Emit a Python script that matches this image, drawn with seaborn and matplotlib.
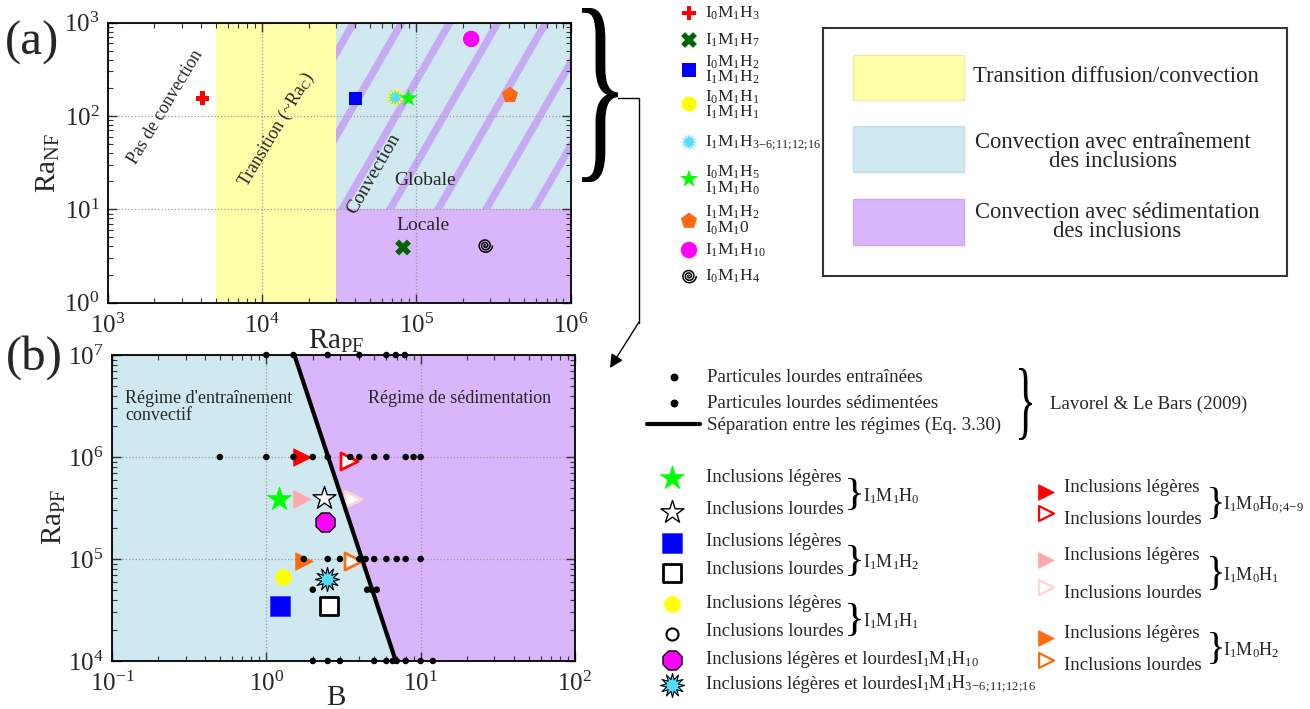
import numpy as np
import matplotlib
matplotlib.use('Agg')
import matplotlib.pyplot as plt
import seaborn as sns
from matplotlib.path import Path
from matplotlib.patches import Rectangle, PathPatch
from matplotlib.textpath import TextPath
from matplotlib.font_manager import FontProperties
from matplotlib.transforms import Affine2D

# ---------------- Données panneau (a) ----------------
cas_a = ['I0M1H3', 'I1M1H7', 'I0M1H2', 'I0M1H1', 'I1M1H3-16',
         'I0M1H5', 'I1M1H2', 'I1M1H10', 'I0M1H4']
ra_pf_a = [4.1e3, 8.2e4, 4.05e4, 7.3e4, 7.3e4, 8.9e4, 4.05e5, 2.27e5, 2.8e5]
ra_nf_a = [155, 3.9, 155, 158, 158, 155, 167, 670, 4.1]

ra_transition = [5e3, 3e4]      # bande jaune (~Ra_c)
ra_nf_limite = 10               # globale / locale
lim_pf_a = [1e3, 1e6]
lim_nf_a = [1, 1e3]

# ---------------- Données panneau (b) ----------------
# Lavorel & Le Bars (2009)
B_entraine = [1.0, 1.5, 0.5, 1.0, 1.5, 2.0, 2.5, 1.75, 2.5, 3.0, 4.0,
              2.0, 4.5, 4.8, 2.0, 2.5, 3.0, 5.0, 6.0, 6.6]
Ra_entraine = [1e7, 1e7, 1e6, 1e6, 1e6, 1e6, 1e6, 1e5, 1e5, 1e5, 1e5,
               5e4, 5e4, 5e4, 1e4, 1e4, 1e4, 1e4, 1e4, 1e4]
B_sedimente = [2.5, 4.0, 6.0, 6.9, 7.9, 3.5, 4.0, 5.0, 6.0, 8.0, 9.0, 10.0,
               4.4, 5.0, 6.0, 7.0, 8.0, 10.0, 5.2, 7.0, 8.0, 10.0, 12.0]
Ra_sedimente = [1e7, 1e7, 1e7, 1e7, 1e7, 1e6, 1e6, 1e6, 1e6, 1e6, 1e6, 1e6,
                1e5, 1e5, 1e5, 1e5, 1e5, 1e5, 5e4, 1e4, 1e4, 1e4, 1e4]

# séparation entre les régimes (Eq. 3.30)
B_separation = [1.52, 6.9]
Ra_separation = [1e7, 1e4]
lim_B = [0.1, 100]
lim_Ra = [1e4, 1e7]

cas_b = ['I1M0H0 leg', 'I1M0H0 lou', 'I1M1H0 leg', 'I1M0H1 leg', 'I1M1H0 lou',
         'I1M0H1 lou', 'I1M1H10', 'I1M0H2 leg', 'I1M0H2 lou', 'I1M1H1 leg',
         'I1M1H3-16', 'I1M1H2 leg', 'I1M1H2 lou']
B_b = [1.70, 3.41, 1.20, 1.70, 2.35, 3.64, 2.39, 1.76, 3.64, 1.28, 2.47, 1.23, 2.53]
Ra_b = [1e6, 9.2e5, 3.85e5, 3.85e5, 4.0e5, 3.85e5, 2.3e5, 9.6e4, 9.6e4,
        6.7e4, 6.3e4, 3.5e4, 3.5e4]

# ---------------- Styles ----------------
JAUNE = '#FFFFAA'
BLEU = '#D0E8EF'
VIOLET = '#D9B5FB'
VIOLET_RAYE = '#C6AAF3'
ORANGE = '#FF6A10'

# marqueurs spéciaux (formes)
t = np.linspace(0, 6 * np.pi, 300)
SPIRALE = Path(np.column_stack([t * np.cos(t), t * np.sin(t)]) / (6 * np.pi))
ETOILE12 = (12, 1, 0)

style_a = {
    'I0M1H3': dict(marker='P', s=95, fc='#FF0000', ec='none', lw=0),
    'I1M1H7': dict(marker='X', s=130, fc='#006400', ec='none', lw=0),
    'I0M1H2': dict(marker='s', s=90, fc='#0000FF', ec='none', lw=0),
    'I0M1H1': dict(marker='o', s=120, fc='#FFFF00', ec='none', lw=0),
    'I1M1H3-16': dict(marker=ETOILE12, s=140, fc='#55DDFF', ec='none', lw=0),
    'I0M1H5': dict(marker='*', s=190, fc='#00FF00', ec='none', lw=0),
    'I1M1H2': dict(marker='p', s=150, fc=ORANGE, ec='none', lw=0),
    'I1M1H10': dict(marker='o', s=140, fc='#FF00FF', ec='none', lw=0),
    'I0M1H4': dict(marker=SPIRALE, s=110, fc='none', ec='black', lw=1.1),
}

style_b = {
    'I1M0H0 leg': dict(marker='>', s=160, fc='#FF0000', ec='#FF0000', lw=0.5),
    'I1M0H0 lou': dict(marker='>', s=150, fc='white', ec='#FF0000', lw=2),
    'I1M1H0 leg': dict(marker='*', s=330, fc='#00FF00', ec='#00FF00', lw=0.5),
    'I1M0H1 leg': dict(marker='>', s=160, fc='#FFAAAA', ec='#FFAAAA', lw=0.5),
    'I1M1H0 lou': dict(marker='*', s=300, fc='white', ec='black', lw=1),
    'I1M0H1 lou': dict(marker='>', s=150, fc='white', ec='#FFD3D3', lw=2),
    'I1M1H10': dict(marker='8', s=220, fc='#FF00FF', ec='black', lw=1),
    'I1M0H2 leg': dict(marker='>', s=160, fc=ORANGE, ec=ORANGE, lw=0.5),
    'I1M0H2 lou': dict(marker='>', s=150, fc='white', ec=ORANGE, lw=2),
    'I1M1H1 leg': dict(marker='o', s=130, fc='#FFFF00', ec='#FFFF00', lw=0.5),
    'I1M1H3-16': dict(marker=ETOILE12, s=300, fc='#55DDFF', ec='black', lw=0.8),
    'I1M1H2 leg': dict(marker='s', s=190, fc='#0000FF', ec='#3333FF', lw=0.5),
    'I1M1H2 lou': dict(marker='s', s=170, fc='white', ec='black', lw=2),
}

sns.set_theme(style='ticks')
plt.rcParams['font.family'] = ['Liberation Serif', 'DejaVu Serif']
plt.rcParams['mathtext.fontset'] = 'custom'
plt.rcParams['mathtext.rm'] = 'Liberation Serif'
plt.rcParams['mathtext.it'] = 'Liberation Serif:italic'
plt.rcParams['mathtext.bf'] = 'Liberation Serif:bold'

fig = plt.figure(figsize=(13.1, 7.09), dpi=100)
ax_a = fig.add_axes([0.0824, 0.5731, 0.3531, 0.3949])
ax_b = fig.add_axes([0.0855, 0.0677, 0.3534, 0.4316])


def habiller(ax):
    ax.set_xscale('log')
    ax.set_yscale('log')
    ax.tick_params(which='both', direction='in', top=True, right=True,
                   labelsize=18, color='#333333')
    ax.tick_params(which='major', length=6.5, width=1)
    ax.tick_params(which='minor', length=3.5, width=0.8)
    ax.tick_params(axis='x', pad=8)
    ax.tick_params(axis='y', pad=6)
    ax.grid(True, which='major', linestyle=':', color='#999999', lw=0.9)
    for sp in ax.spines.values():
        sp.set_linewidth(1.3)
        sp.set_color('black')


def points(ax, x, y, st, z=4):
    sns.scatterplot(x=x, y=y, ax=ax, marker=st['marker'], s=st['s'],
                    facecolor=st['fc'], edgecolor=st['ec'], linewidth=st['lw'],
                    zorder=z, clip_on=False, legend=False)


# ================= Panneau (a) =================
habiller(ax_a)
ax_a.set_xlim(lim_pf_a)
ax_a.set_ylim(lim_nf_a)
ax_a.axvspan(ra_transition[0], ra_transition[1], color=JAUNE, lw=0, zorder=0.2)
rect_bleu = Rectangle((ra_transition[1], ra_nf_limite),
                      lim_pf_a[1] - ra_transition[1], lim_nf_a[1] - ra_nf_limite,
                      facecolor=BLEU, lw=0, zorder=0.2)
ax_a.add_patch(rect_bleu)
ax_a.add_patch(Rectangle((ra_transition[1], lim_nf_a[0]),
                         lim_pf_a[1] - ra_transition[1], ra_nf_limite - lim_nf_a[0],
                         facecolor=VIOLET, lw=0, zorder=0.2))

# rayures de la zone globale (décor)
y_lim_ax = 1 / 3
L = 420
for k in range(-3, 7):
    xb = 0.506 + k * 0.1038
    dx = L * 0.5 / 462.6
    dy = L * 0.866 / 280
    ln, = ax_a.plot([xb - dx, xb + dx], [y_lim_ax - dy, y_lim_ax + dy],
                    transform=ax_a.transAxes, color=VIOLET_RAYE, lw=5.3,
                    solid_capstyle='butt', zorder=0.3)
    ln.set_clip_path(rect_bleu)

for nom, x, y in zip(cas_a, ra_pf_a, ra_nf_a):
    points(ax_a, [x], [y], style_a[nom])

ax_a.text(0.125, 0.70, 'Pas de convection', transform=ax_a.transAxes,
          rotation=59, ha='center', va='center', fontsize=13)
ax_a.text(0.365, 0.617, r'Transition (~Ra$_\mathrm{C}$)', transform=ax_a.transAxes,
          rotation=59, ha='center', va='center', fontsize=13)
ax_a.text(0.575, 0.462, 'Convection', transform=ax_a.transAxes,
          rotation=60, ha='center', va='center', fontsize=14)
ax_a.text(0.686, 0.438, 'Globale', transform=ax_a.transAxes,
          ha='center', va='center', fontsize=14)
ax_a.text(0.680, 0.274, 'Locale', transform=ax_a.transAxes,
          ha='center', va='center', fontsize=14)

ax_a.set_xlabel(r'Ra$_\mathrm{PF}$', fontsize=21)
ax_a.xaxis.set_label_coords(0.493, -0.09)
ax_a.set_ylabel(r'Ra$_\mathrm{NF}$', fontsize=21)
ax_a.yaxis.set_label_coords(-0.10, 0.5)

# ================= Panneau (b) =================
habiller(ax_b)
ax_b.set_xlim(lim_B)
ax_b.set_ylim(lim_Ra)
ax_b.fill_betweenx(Ra_separation, [lim_B[0]] * 2, B_separation,
                   color=BLEU, lw=0, zorder=0.2)
ax_b.fill_betweenx(Ra_separation, B_separation, [lim_B[1]] * 2,
                   color=VIOLET, lw=0, zorder=0.2)

for nom, x, y in zip(cas_b, B_b, Ra_b):
    points(ax_b, [x], [y], style_b[nom])

sns.scatterplot(x=B_entraine, y=Ra_entraine, ax=ax_b, color='black', s=22,
                edgecolor='none', zorder=6, clip_on=False, legend=False)
sns.scatterplot(x=B_sedimente, y=Ra_sedimente, ax=ax_b, color='black', s=22,
                edgecolor='none', zorder=6, clip_on=False, legend=False)
sns.lineplot(x=B_separation, y=Ra_separation, ax=ax_b, color='black', lw=3,
             sort=False, estimator=None, zorder=7)

ax_b.text(0.028, 0.885, "Régime d'entraînement\nconvectif", transform=ax_b.transAxes,
          ha='left', va='top', fontsize=13, linespacing=1.0)
ax_b.text(0.552, 0.859, 'Régime de sédimentation', transform=ax_b.transAxes,
          ha='left', va='center', fontsize=13)

ax_b.set_xlabel('B', fontsize=21)
ax_b.xaxis.set_label_coords(0.484, -0.08)
ax_b.set_ylabel(r'Ra$_\mathrm{PF}$', fontsize=21)
ax_b.yaxis.set_label_coords(-0.095, 0.47)

# ================= Calque des légendes (coordonnées pixels) =================
ax_leg = fig.add_axes([0, 0, 1, 1])
ax_leg.set_xlim(0, 1310)
ax_leg.set_ylim(709, 0)
ax_leg.axis('off')
ax_leg.set_facecolor('none')

POLICE = FontProperties(family='Liberation Serif')


def accolade(x, y0, y1, w):
    tp = TextPath((0, 0), '}', size=1, prop=POLICE)
    bb = tp.get_extents()
    tr = (Affine2D().translate(-bb.x0, -bb.y0)
          .scale(w / bb.width, -(y1 - y0) / bb.height).translate(x, y1))
    ax_leg.add_patch(PathPatch(tr.transform_path(tp), facecolor='black',
                               edgecolor='none'))


def symbole(x, y, st):
    ax_leg.scatter([x], [y], marker=st['marker'], s=st['s'], facecolor=st['fc'],
                   edgecolor=st['ec'], linewidth=st['lw'], clip_on=False)


def ecrire(x, y, s, fs=13.6, **kw):
    ax_leg.text(x, y, s, ha=kw.pop('ha', 'left'), va=kw.pop('va', 'center'),
                fontsize=fs, **kw)


H_3_16 = r'$\mathrm{I_1M_1H_{3\!-\!6;\!11;\!12;\!16}}$'

ecrire(32, 43, '(a)', fs=35, ha='center')
ecrire(34, 358, '(b)', fs=35, ha='center')

# accolade + flèche vers (b)
accolade(582, 8, 182, 36)
ax_leg.plot([618, 639, 639], [98, 98, 323], color='black', lw=1)
ax_leg.annotate('', xy=(610, 368), xytext=(639, 322),
                arrowprops=dict(arrowstyle='-|>', color='black', lw=1,
                                mutation_scale=20, shrinkA=0, shrinkB=0))

# légende des marqueurs (a)
leg_a = [
    (13, 'I0M1H3', [(13, r'$\mathrm{I_0M_1H_3}$')]),
    (40, 'I1M1H7', [(40, r'$\mathrm{I_1M_1H_7}$')]),
    (70, 'I0M1H2', [(62, r'$\mathrm{I_0M_1H_2}$'), (77, r'$\mathrm{I_1M_1H_2}$')]),
    (104, 'I0M1H1', [(97, r'$\mathrm{I_0M_1H_1}$'), (112, r'$\mathrm{I_1M_1H_1}$')]),
    (142, 'I1M1H3-16', [(143, H_3_16)]),
    (179, 'I0M1H5', [(172, r'$\mathrm{I_0M_1H_5}$'), (188, r'$\mathrm{I_1M_1H_0}$')]),
    (221, 'I1M1H2', [(212, r'$\mathrm{I_1M_1H_2}$'), (228, r'$\mathrm{I_0M_1}$0')]),
    (250, 'I1M1H10', [(250, r'$\mathrm{I_1M_1H_{10}}$')]),
    (276, 'I0M1H4', [(276, r'$\mathrm{I_0M_1H_4}$')]),
]
for ym, nom, lignes in leg_a:
    symbole(689, ym, style_a[nom])
    for yt, s in lignes:
        ecrire(705, yt, s, fs=12.5, color='#222222')

# boîte des régimes
ax_leg.add_patch(Rectangle((823, 28), 464, 248, facecolor='white',
                           edgecolor='#333333', lw=1.5))
for (y0, y1), c, ce in [((55, 100), JAUNE, '#EEEE99'), ((126, 172), BLEU, '#C5E0E8'),
                        ((199, 245), VIOLET, '#D0A8F5')]:
    ax_leg.add_patch(Rectangle((853, y0), 111, y1 - y0, facecolor=c,
                               edgecolor=ce, lw=1))
ecrire(973, 77, 'Transition diffusion/convection', fs=16.3)
ecrire(1113, 152, 'Convection avec entraînement\ndes inclusions', fs=16.3,
       ha='center', multialignment='center', linespacing=0.85)
ecrire(1117, 222, 'Convection avec sédimentation\ndes inclusions', fs=16.3,
       ha='center', multialignment='center', linespacing=0.85)

# légende (b) : Lavorel & Le Bars
ax_leg.scatter([674, 674], [377, 403], s=22, color='black')
ax_leg.plot([647, 700], [424, 424], color='black', lw=3)
ecrire(707, 378, 'Particules lourdes entraînées')
ecrire(707, 404, 'Particules lourdes sédimentées')
ecrire(707, 425, 'Séparation entre les régimes (Eq. 3.30)')
accolade(1019, 368, 440, 13)
ecrire(1050, 404, 'Lavorel & Le Bars (2009)')

# légende (b) : inclusions, colonne gauche
leg_b_gauche = [
    ('I1M1H0 leg', 478, 'I1M1H0 lou', 512, r'$\mathrm{I_1M_1H_0}$', 478, 510),
    ('I1M1H2 leg', 543, 'I1M1H2 lou', 573, r'$\mathrm{I_1M_1H_2}$', 545, 576),
    ('I1M1H1 leg', 604, None, 634, r'$\mathrm{I_1M_1H_1}$', 603, 636),
]
for k1, y1, k2, y2, lab, b0, b1 in leg_b_gauche:
    symbole(672, y1, style_b[k1])
    if k2 is None:
        symbole(672, y2, dict(marker='o', s=75, fc='white', ec='black', lw=1.5))
    else:
        symbole(672, y2, style_b[k2])
    ecrire(706, y1 - 1, 'Inclusions légères')
    ecrire(706, y2 - 3, 'Inclusions lourdes')
    accolade(848, b0, b1, 13)
    ecrire(863, (b0 + b1) / 2 + 2, lab, fs=13)

symbole(672, 660, style_b['I1M1H10'])
ecrire(706, 664, 'Inclusions légères et lourdes', fs=13.3, va='baseline')
ecrire(916, 664, r'$\mathrm{I_1M_1H_{10}}$', fs=13, va='baseline')
symbole(672, 685, style_b['I1M1H3-16'])
ecrire(706, 689, 'Inclusions légères et lourdes', fs=13.3, va='baseline')
ecrire(916, 689, H_3_16, fs=13, va='baseline')

# légende (b) : inclusions, colonne droite
leg_b_droite = [
    ('I1M0H0 leg', 492, 'I1M0H0 lou', 513, r'$\mathrm{I_1M_0H_{0;\!4\!-\!9}}$', 487, 519),
    ('I1M0H1 leg', 560, 'I1M0H1 lou', 587, r'$\mathrm{I_1M_0H_1}$', 556, 590),
    ('I1M0H2 leg', 638, 'I1M0H2 lou', 660, r'$\mathrm{I_1M_0H_2}$', 632, 664),
]
for k1, y1, k2, y2, lab, b0, b1 in leg_b_droite:
    st1 = dict(style_b[k1], s=130)
    st2 = dict(style_b[k2], s=115, lw=1.6)
    symbole(1046, y1, st1)
    symbole(1046, y2, st2)
    ecrire(1064, y1 - 4, 'Inclusions légères')
    ecrire(1064, y2 + 6, 'Inclusions lourdes')
    accolade(1210, b0, b1, 12)
    ecrire(1223, (b0 + b1) / 2 + 2, lab, fs=13)

fig.savefig('out.png', dpi=100)
